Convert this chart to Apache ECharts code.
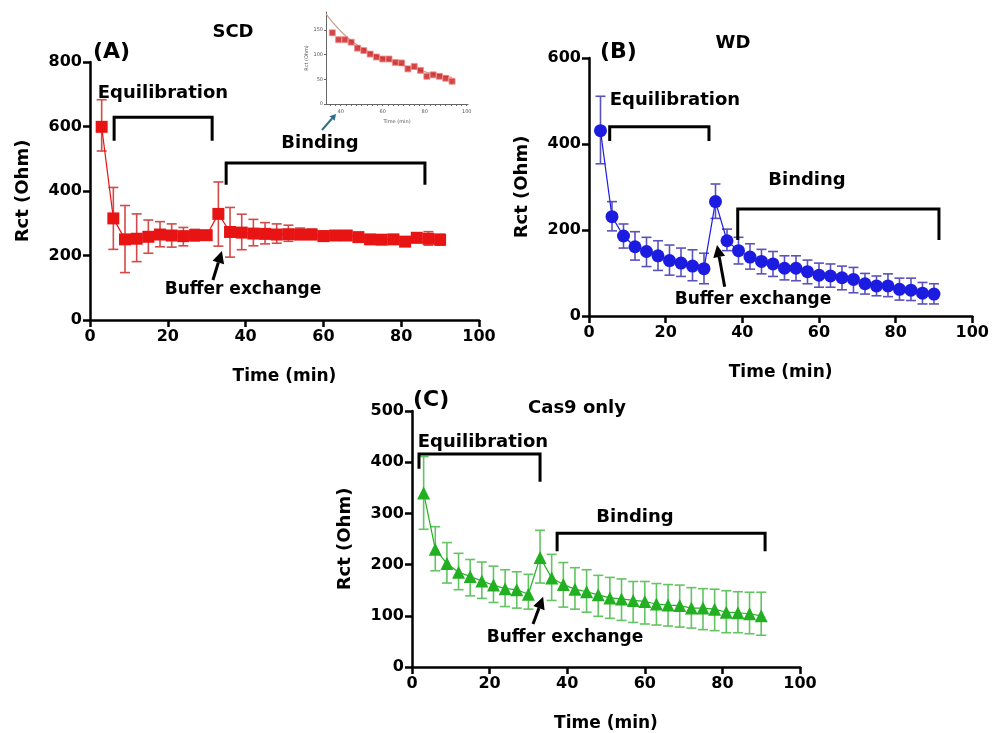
<!DOCTYPE html>
<html>
<head>
<meta charset="utf-8">
<script src="https://cdn.jsdelivr.net/npm/echarts@6/dist/echarts.min.js"></script>
<style>
  html, body { margin: 0; background: #fff; }
  #chart { width: 992px; height: 733px; }
</style>
</head>
<body>
<div id="chart"></div>
<script>
// sampling times (min), shared by the three panels
const timeMin = [3,6,9,12,15,18,21,24,27,30,33,36,39,42,45,48,51,54,57,60,63,66,69,72,75,78,81,84,87,90];

// (A) SCD
const scdMean = [599,315,250,252,258,265,262,260,263,263,329,273,271,268,267,265,266,265,265,260,262,262,257,250,249,250,243,255,252,249];
const scdLow  = [524,219,147,181,207,227,226,230,245,250,229,195,218,230,236,238,244,250,250,246,250,250,245,238,237,238,230,240,232,232];
const scdHigh = [683,411,355,329,310,305,298,287,281,275,428,349,328,312,302,298,294,285,282,276,275,275,270,262,262,262,256,270,274,266];

// (B) WD
const wdMean = [431,231,186,161,150,140,129,123,116,110,266,175,152,137,127,121,111,111,103,95,93,89,85,75,70,70,62,60,53,51];
const wdLow  = [354,198,158,130,115,106,95,92,82,75,227,152,121,109,98,92,84,82,75,67,67,61,54,51,47,45,37,36,28,28];
const wdHigh = [511,266,214,196,183,175,165,158,154,146,307,202,183,168,155,150,140,140,130,123,121,116,113,99,93,98,88,88,78,75];

// (C) Cas9 only
const casMean = [340,230,202,185,177,168,160,153,151,142,214,174,161,152,147,141,135,133,130,128,123,121,120,115,115,113,107,106,104,100];
const casLow  = [269,188,164,151,139,134,126,118,115,113,164,130,117,113,107,99,95,91,87,84,82,80,78,76,73,71,67,67,65,62];
const casHigh = [411,274,243,222,210,205,197,190,186,181,267,220,204,194,190,179,175,172,167,167,163,161,160,155,153,152,149,147,146,146];

// inset of (A): binding phase with fitted decay
const insetTime = [36,39,42,45,48,51,54,57,60,63,66,69,72,75,78,81,84,87,90,93];
const insetRct  = [144,130,130,125,113,108,101,95,91,91,84,83,71,76,68,56,59,56,52,46];
const fitTime = [33,36,39,42,45,48,51,54,57,60,63,66,69,72,75,78,81,84,87,90,93];
const fitRct  = [182,166,152,139,128,119,111,104,98,93,88,83,79,75,71,68,64,61,59,56,54];

const insetXLabels = [40,60,80,100];
const insetYLabels = [0,50,100,150];
const insetXMinor = [];
for (let t = 35; t <= 100; t += 2.5) insetXMinor.push(t);

const FONT = 'DejaVu Sans';

const chart = echarts.init(document.getElementById('chart'));

function pairs(xs, ys) { return xs.map((x, i) => [x, ys[i]]); }
function triples(xs, lo, hi) { return xs.map((x, i) => [x, lo[i], hi[i]]); }

function errRender(color) {
  return function (params, api) {
    const x = api.value(0);
    const lo = api.coord([x, api.value(1)]);
    const hi = api.coord([x, api.value(2)]);
    const w = 5;
    const st = { stroke: color, lineWidth: 1.6 };
    return {
      type: 'group',
      children: [
        { type: 'line', shape: { x1: lo[0], y1: lo[1], x2: hi[0], y2: hi[1] }, style: st },
        { type: 'line', shape: { x1: lo[0] - w, y1: lo[1], x2: lo[0] + w, y2: lo[1] }, style: st },
        { type: 'line', shape: { x1: hi[0] - w, y1: hi[1], x2: hi[0] + w, y2: hi[1] }, style: st }
      ]
    };
  };
}

function xAxisMain(gridIndex) {
  return {
    type: 'value', gridIndex, min: 0, max: 100, interval: 20,
    name: 'Time (min)', nameLocation: 'middle', nameGap: 48,
    nameTextStyle: { fontFamily: FONT, fontWeight: 'bold', fontSize: 17, color: '#000' },
    axisLine: { lineStyle: { color: '#000', width: 2.5 } },
    axisTick: { length: 7, lineStyle: { color: '#000', width: 2.5 } },
    axisLabel: { fontFamily: FONT, fontWeight: 'bold', fontSize: 16, color: '#000', margin: 9 },
    splitLine: { show: false }
  };
}
function yAxisMain(gridIndex, max, interval) {
  return {
    type: 'value', gridIndex, min: 0, max, interval,
    name: 'Rct (Ohm)', nameLocation: 'middle', nameGap: 58, nameRotate: 90,
    nameTextStyle: { fontFamily: FONT, fontWeight: 'bold', fontSize: 18, color: '#000' },
    axisLine: { show: true, lineStyle: { color: '#000', width: 2.5 } },
    axisTick: { show: true, length: 7, lineStyle: { color: '#000', width: 2.5 } },
    axisLabel: { fontFamily: FONT, fontWeight: 'bold', fontSize: 16, color: '#000', margin: 8 },
    splitLine: { show: false }
  };
}

function panelSeries(idx, mean, lo, hi, color, errColor, symbol, size) {
  return [
    {
      type: 'custom', xAxisIndex: idx, yAxisIndex: idx,
      renderItem: errRender(errColor),
      encode: { x: 0, y: [1, 2] },
      data: triples(timeMin, lo, hi), z: 2
    },
    {
      type: 'line', xAxisIndex: idx, yAxisIndex: idx,
      data: pairs(timeMin, mean),
      symbol, symbolSize: size, showSymbol: true, showAllSymbol: true,
      itemStyle: { color },
      lineStyle: { color, width: 1.2 }, z: 3
    }
  ];
}

const insetLine = { show: true, lineStyle: { color: '#666', width: 1 } };

chart.setOption({
  animation: false,
  backgroundColor: '#fff',
  grid: [
    { left: 90, right: 513, top: 62, bottom: 413 },
    { left: 589, right: 16, top: 58, bottom: 417 },
    { left: 412, right: 192, top: 411, bottom: 65 },
    { left: 326, right: 524, top: 12, bottom: 629 }
  ],
  xAxis: [
    xAxisMain(0), xAxisMain(1), xAxisMain(2),
    {
      type: 'value', gridIndex: 3, min: 33, max: 100.6,
      name: 'Time (min)', nameLocation: 'middle', nameGap: 15,
      nameTextStyle: { fontFamily: FONT, fontSize: 5, color: '#555' },
      axisLine: insetLine,
      axisTick: { show: true, customValues: insetXMinor, length: 2, lineStyle: { color: '#666', width: 1 } },
      axisLabel: { customValues: insetXLabels, fontFamily: FONT, fontSize: 5, color: '#555', margin: 5 },
      splitLine: { show: false }
    }
  ],
  yAxis: [
    yAxisMain(0, 800, 200), yAxisMain(1, 600, 200), yAxisMain(2, 500, 100),
    {
      type: 'value', gridIndex: 3, min: 0, max: 186,
      name: 'Rct (Ohm)', nameLocation: 'middle', nameGap: 15, nameRotate: 90,
      nameTextStyle: { fontFamily: FONT, fontSize: 5, color: '#555' },
      axisLine: insetLine,
      axisTick: { show: true, customValues: insetYLabels, length: 2, lineStyle: { color: '#666', width: 1 } },
      axisLabel: { customValues: insetYLabels, fontFamily: FONT, fontSize: 5, color: '#555', margin: 3 },
      splitLine: { show: false }
    }
  ],
  series: [
    ...panelSeries(0, scdMean, scdLow, scdHigh, '#e81414', '#d24a4a', 'rect', 12),
    ...panelSeries(1, wdMean, wdLow, wdHigh, '#1c1ce0', '#5a52bc', 'circle', 13),
    ...panelSeries(2, casMean, casLow, casHigh, '#22b022', '#62c462', 'triangle', 13),
    {
      type: 'line', xAxisIndex: 3, yAxisIndex: 3,
      data: pairs(fitTime, fitRct), symbol: 'none', smooth: true,
      lineStyle: { color: '#c9a18c', width: 1.2 }, z: 2
    },
    {
      type: 'scatter', xAxisIndex: 3, yAxisIndex: 3,
      data: pairs(insetTime, insetRct), symbol: 'rect', symbolSize: 6,
      itemStyle: { color: '#c81818', borderColor: '#f29090', borderWidth: 1 }, z: 3
    }
  ]
});

// annotations in data coordinates: [xStart, xEnd, yTop, yTailStart, yTailEnd]
const brackets = [
  [0, [6.2, 31.4, 629, 556, 556]], [0, [35, 86.1, 487, 419, 419]],
  [1, [5.4, 31.3, 440, 407, 407]], [1, [38.8, 91.3, 249, 177, 177]],
  [2, [1.8, 33, 416, 387, 362]], [2, [37.4, 91, 261, 226, 226]]
];
// arrows: [tailX, tailY, headX, headY]
const arrows = [
  [0, [31.6, 124, 33.9, 214]],
  [1, [35.4, 68, 33.4, 165]],
  [2, [31.2, 84, 33.8, 137]]
];

function px(g, p) { return chart.convertToPixel({ gridIndex: g }, p); }

function arrowShapes(t, h, color, width, headLen, headW) {
  const dx = h[0] - t[0], dy = h[1] - t[1];
  const len = Math.sqrt(dx * dx + dy * dy);
  const ux = dx / len, uy = dy / len;
  const bx = h[0] - ux * headLen, by = h[1] - uy * headLen;
  return [
    { type: 'line', shape: { x1: t[0], y1: t[1], x2: bx, y2: by }, style: { stroke: color, lineWidth: width } },
    { type: 'polygon', shape: { points: [h, [bx - uy * headW, by + ux * headW], [bx + uy * headW, by - ux * headW]] }, style: { fill: color } }
  ];
}

const gfx = [];
brackets.forEach(([g, b]) => {
  const a = px(g, [b[0], b[3]]), c = px(g, [b[0], b[2]]), d = px(g, [b[1], b[2]]), e = px(g, [b[1], b[4]]);
  gfx.push({ type: 'polyline', shape: { points: [a, c, d, e] }, style: { stroke: '#000', lineWidth: 3, fill: null }, z: 10 });
});
arrows.forEach(([g, a]) => {
  arrowShapes(px(g, [a[0], a[1]]), px(g, [a[2], a[3]]), '#000', 3, 12, 6).forEach(s => { s.z = 10; gfx.push(s); });
});
arrowShapes([322, 130], [336, 114], '#2f6f8f', 2, 6, 3.5).forEach(s => { s.z = 10; gfx.push(s); });

function label(text, x, y, size, align) {
  return {
    type: 'text', x, y, z: 11,
    style: { text, fontFamily: FONT, fontWeight: 'bold', fontSize: size, fill: '#000', align: align || 'center', verticalAlign: 'middle' }
  };
}
gfx.push(
  label('(A)', 93, 52, 22, 'left'), label('SCD', 233, 32, 18),
  label('Equilibration', 163, 93, 18), label('Binding', 320, 143, 18), label('Buffer exchange', 243, 290, 17),
  label('(B)', 600, 52, 22, 'left'), label('WD', 733, 43, 18),
  label('Equilibration', 675, 100, 18), label('Binding', 807, 180, 18), label('Buffer exchange', 753, 300, 17),
  label('(C)', 413, 400, 22, 'left'), label('Cas9 only', 577, 408, 18),
  label('Equilibration', 483, 442, 18), label('Binding', 635, 517, 18), label('Buffer exchange', 565, 638, 17)
);

chart.setOption({ graphic: gfx });
</script>
</body>
</html>
